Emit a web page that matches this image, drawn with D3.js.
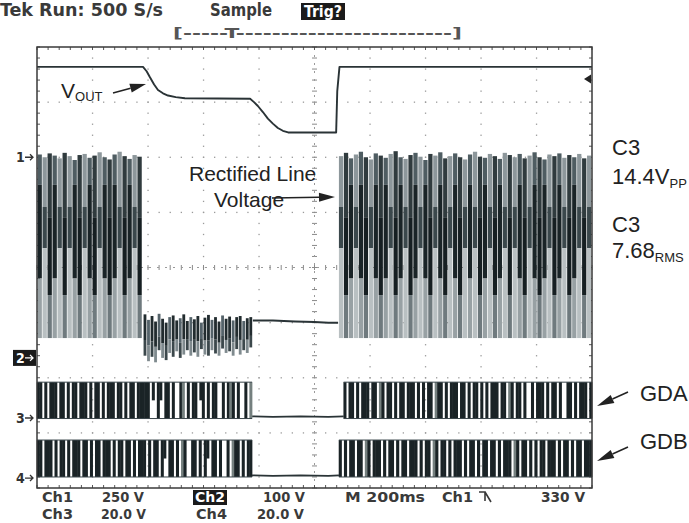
<!DOCTYPE html>
<html><head><meta charset="utf-8">
<script src="https://cdn.jsdelivr.net/npm/d3@7"></script>
<style>body{margin:0;background:#fff}svg{display:block}</style>
</head><body><svg id="c" width="689" height="523"></svg>
<script>
// ================= DATA =================
// time in ms (200 ms/div, 10 div), level in divisions (-4..+4)
const voutTime  = [0, 382, 395, 407, 422, 436, 454, 472, 500, 533, 768, 782, 796, 814, 832, 850, 868, 886, 905, 1078, 1082, 1090, 2000];
const voutLevel = [3.64, 3.64, 3.56, 3.45, 3.32, 3.22, 3.16, 3.12, 3.09, 3.07, 3.06, 3.0, 2.93, 2.82, 2.70, 2.61, 2.53, 2.48, 2.45, 2.45, 3.2, 3.64, 3.64];

// rectified line voltage: peak of each aliased pulse (div); bottom is common
const rectLeftSpan  = [2, 380];
const rectLeftTop   = [2.05, 2.0, 2.07, 2.03, 1.98, 2.08, 2.02, 1.95, 2.04, 2.06, 1.99, 2.03, 2.09, 2.0, 1.96, 2.05, 2.1, 2.02, 1.97, 2.04, 2.01];
const rectLeftShade = [0, 1, 2, 0, 1, 2, 1, 0, 2, 1, 0, 2, 1, 0, 2, 0, 1, 2, 0, 1, 2];
const rectRightSpan  = [1088, 2000];
const rectRightTop   = [2.02, 2.08, 1.98, 2.05, 2.1, 2.0, 1.96, 2.07, 2.03, 1.99, 2.06, 2.11, 2.0, 1.97, 2.04, 2.08, 2.01, 1.95, 2.06, 2.03, 2.09, 1.98, 2.02, 2.07, 2.0, 1.96, 2.05, 2.1, 2.01, 1.99, 2.06, 2.02, 1.97, 2.08, 2.04, 2.0, 2.06, 1.98, 2.03, 2.09, 2.0, 1.96, 2.05, 2.02, 2.07, 1.99, 2.04, 2.0, 2.06, 1.98, 2.03];
const rectRightShade = [1, 2, 0, 1, 0, 2, 1, 0, 2, 0, 1, 2, 0, 1, 2, 0, 1, 0, 2, 1, 0, 2, 1, 0, 2, 1, 0, 1, 2, 0, 1, 2, 0, 1, 2, 1, 0, 2, 1, 0, 2, 0, 1, 2, 0, 1, 2, 0, 1, 2, 1];
const rectBottom = -1.28;

// dropout: noisy band of ch2 then flat trace
const noiseSpan = [384, 778];
const noiseTop  = [-0.85, -0.95, -0.88, -0.98, -0.84, -0.93, -1.0, -0.9, -0.87, -0.96, -0.92, -0.85, -0.97, -0.9, -0.94, -0.88, -1.0, -0.91, -0.86, -0.95, -0.9, -0.98, -0.87, -0.93, -0.89, -0.96, -0.9, -0.88, -0.97, -0.92, -0.9];
const noiseBot  = [-1.6, -1.7, -1.62, -1.72, -1.5, -1.64, -1.68, -1.55, -1.62, -1.52, -1.64, -1.58, -1.5, -1.6, -1.54, -1.62, -1.48, -1.58, -1.6, -1.5, -1.56, -1.6, -1.47, -1.55, -1.52, -1.6, -1.48, -1.58, -1.5, -1.55, -1.45];
const ch2FlatTime  = [778, 850, 930, 1000, 1050, 1085];
const ch2FlatLevel = [-0.96, -0.96, -0.98, -0.99, -1.0, -1.0];

// gate drives: '#' dark pulse, '+' grey pulse, 'u' short pulse, '.' gap
const gdaHigh = -2.08, gdaLow = -2.74;
const gdaLeftSpan = [0, 775];
const gdaLeft  = "##.#.###.##.#.##.###.#.##.#.###.##.#.##.####" + "#.u.#u.##.#..#+.#.##.u#.#.##..#.#+#.#..#.+";
const gdaRightSpan = [1105, 2000];
const gdaRight = "#.##.#.###.##.+#.##.#.##.###.#.#.##.+##.#.###.##.#.##.#.#.###.##.+#.##.#..#.###.#.##.#..##.#.###.#";
const gdaFlatTime  = [775, 850, 950, 1050, 1105];
const gdaFlatLevel = [-2.70, -2.71, -2.70, -2.71, -2.70];

const gdbHigh = -3.13, gdbLow = -3.80;
const gdbLeftSpan = [0, 775];
const gdbLeft  = "##.###.#.##.#.###.##.#.##.###.#.##.##.#.###" + ".#.##.#u.##.#.+#..##.#.#u.##.#..#.+##.#.##";
const gdbRightSpan = [1088, 2000];
const gdbRight = "#.#.##.##.+#.###.#.##.#.##.###.#.##.+#.##.#.###.#.##.#.##.##.#.###.+#.##.#.#.##.###.#.##.#.##.###";
const gdbFlatTime  = [775, 850, 950, 1050, 1088];
const gdbFlatLevel = [-3.77, -3.78, -3.77, -3.78, -3.77];

const chMarkers = [{label: "1", level: 2.0, boxed: false}, {label: "2", level: -1.64, boxed: true},
                   {label: "3", level: -2.73, boxed: false}, {label: "4", level: -3.82, boxed: false}];
const triggerLevel = 3.42;

// ================= DRAW =================
const svg = d3.select("#c");
const x = d3.scaleLinear().domain([0, 2000]).range([37, 592]);
const y = d3.scaleLinear().domain([-4, 4]).range([488, 47]);
const tekFont = "'DejaVu Sans Condensed','DejaVu Sans',sans-serif";
const annFont = "'Liberation Sans',Arial,sans-serif";

// graticule
const grid = svg.append("g");
const minorX = d3.range(0, 2000.01, 40);
const minorY = d3.range(-4, 4.001, 0.2);
for (let i = 1; i < 10; i++) {
  if (i === 5) continue;
  grid.append("g").selectAll("rect").data(minorY.slice(1, -1)).join("rect")
    .attr("x", x(i * 200) - 0.6).attr("y", d => y(d) - 0.6).attr("width", 1.3).attr("height", 1.3).attr("fill", "#9a9a9a");
}
for (let j = -3; j <= 3; j++) {
  if (j === 0) continue;
  grid.append("g").selectAll("rect").data(minorX.slice(1, -1)).join("rect")
    .attr("x", d => x(d) - 0.6).attr("y", y(j) - 0.6).attr("width", 1.3).attr("height", 1.3).attr("fill", "#9a9a9a");
}
grid.append("g").selectAll("line").data(minorY).join("line")
  .attr("x1", x(1000) - 2.5).attr("x2", x(1000) + 2.5).attr("y1", d => y(d)).attr("y2", d => y(d))
  .attr("stroke", "#8a8a8a").attr("stroke-width", 1);
grid.append("g").selectAll("line").data(minorX).join("line")
  .attr("y1", y(0) - 2.5).attr("y2", y(0) + 2.5).attr("x1", d => x(d)).attr("x2", d => x(d))
  .attr("stroke", "#8a8a8a").attr("stroke-width", 1);
grid.append("line").attr("x1", x(1000)).attr("x2", x(1000)).attr("y1", y(4)).attr("y2", y(-4))
  .attr("stroke", "#9a9a9a").attr("stroke-dasharray", "2,6");
grid.append("line").attr("x1", x(0)).attr("x2", x(2000)).attr("y1", y(0)).attr("y2", y(0))
  .attr("stroke", "#9a9a9a").attr("stroke-dasharray", "2,6");
grid.append("g").selectAll("line").data(minorX).join("line")
  .attr("x1", d => x(d)).attr("x2", d => x(d)).attr("y1", y(4)).attr("y2", y(4) + 3).attr("stroke", "#555");
grid.append("g").selectAll("line").data(minorX).join("line")
  .attr("x1", d => x(d)).attr("x2", d => x(d)).attr("y1", y(-4)).attr("y2", y(-4) - 3).attr("stroke", "#555");
grid.append("g").selectAll("line").data(minorY).join("line")
  .attr("y1", d => y(d)).attr("y2", d => y(d)).attr("x1", x(0)).attr("x2", x(0) + 3).attr("stroke", "#555");
grid.append("g").selectAll("line").data(minorY).join("line")
  .attr("y1", d => y(d)).attr("y2", d => y(d)).attr("x1", x(2000)).attr("x2", x(2000) - 3).attr("stroke", "#555");

// traces
const tr = svg.append("g");
function pulses(tops, shades, span, bottom) {
  const dt = (span[1] - span[0]) / tops.length;
  return tops.map((t, i) => ({t: span[0] + i * dt, dt, top: t, shade: shades ? shades[i] : 0, bottom: Array.isArray(bottom) ? bottom[i] : bottom}));
}
const shadeCols = [
  [{a: null, b: 1.5, c: "#4f5d62"}, {a: 1.5, b: -0.2, c: "#1a2427"}, {a: -0.2, b: null, c: "#98a1a4"}],
  [{a: null, b: 1.1, c: "#8d979b"}, {a: 1.1, b: 0.35, c: "#3b484c"}, {a: 0.35, b: null, c: "#b9c0c2"}],
  [{a: null, b: 0.9, c: "#303b3e"}, {a: 0.9, b: -0.5, c: "#161f22"}, {a: -0.5, b: null, c: "#6f7a7e"}]
];
function drawRect(data) {
  data.forEach(d => {
    const x0 = x(d.t), w = Math.max(1, (x(d.t + d.dt) - x(d.t)) * 0.86);
    shadeCols[d.shade].forEach(s => {
      const top = s.a === null ? d.top : s.a, bot = s.b === null ? d.bottom : s.b;
      tr.append("rect").attr("x", x0).attr("width", w).attr("y", y(top)).attr("height", y(bot) - y(top)).attr("fill", s.c);
    });
  });
}
drawRect(pulses(rectLeftTop, rectLeftShade, rectLeftSpan, rectBottom));
drawRect(pulses(rectRightTop, rectRightShade, rectRightSpan, rectBottom));

// ch2 noise band
pulses(noiseTop, null, noiseSpan, noiseBot).forEach((d, i) => {
  const x0 = x(d.t), w = (x(d.t + d.dt) - x(d.t)) * 0.8;
  const mid = d.top + (d.bottom - d.top) * 0.62;
  tr.append("rect").attr("x", x0).attr("width", w).attr("y", y(d.top)).attr("height", y(mid) - y(d.top)).attr("fill", i % 3 === 1 ? "#55636a" : "#222c2f");
  tr.append("rect").attr("x", x0).attr("width", w).attr("y", y(mid)).attr("height", y(d.bottom) - y(mid)).attr("fill", i % 2 ? "#7f8a8e" : "#3c484c");
});

const line = d3.line().x(d => x(d[0])).y(d => y(d[1]));
function flat(ts, vs, sw) {
  tr.append("path").attr("d", line(ts.map((t, i) => [t, vs[i]]))).attr("fill", "none").attr("stroke", "#2a3437").attr("stroke-width", sw);
}
flat(ch2FlatTime, ch2FlatLevel, 2);
flat(gdaFlatTime, gdaFlatLevel, 1.8);
flat(gdbFlatTime, gdbFlatLevel, 1.8);

function digital(str, span, hi, lo) {
  const chars = str.split("");
  const dt = (span[1] - span[0]) / chars.length;
  const cols = {"#": "#1a2326", "+": "#75807f", "u": "#1a2326"};
  chars.forEach((c, i) => {
    if (c === ".") return;
    const t = span[0] + i * dt;
    const bot = c === "u" ? hi + (lo - hi) * 0.5 : lo;
    tr.append("rect").attr("x", x(t) - 0.2).attr("width", (x(t + dt) - x(t)) * 1.2)
      .attr("y", y(hi)).attr("height", y(bot) - y(hi)).attr("fill", cols[c]);
  });
  tr.append("line").attr("x1", x(span[0])).attr("x2", x(span[1])).attr("y1", y(hi)).attr("y2", y(hi)).attr("stroke", "#39454a").attr("stroke-width", 1);
  tr.append("line").attr("x1", x(span[0])).attr("x2", x(span[1])).attr("y1", y(lo)).attr("y2", y(lo)).attr("stroke", "#39454a").attr("stroke-width", 1);
}
digital(gdaLeft, gdaLeftSpan, gdaHigh, gdaLow);
digital(gdaRight, gdaRightSpan, gdaHigh, gdaLow);
digital(gdbLeft, gdbLeftSpan, gdbHigh, gdbLow);
digital(gdbRight, gdbRightSpan, gdbHigh, gdbLow);

// Vout
tr.append("path").attr("d", line(voutTime.map((t, i) => [t, voutLevel[i]])))
  .attr("fill", "none").attr("stroke", "#2a3336").attr("stroke-width", 1.9).attr("stroke-linejoin", "round");

// frame
svg.append("rect").attr("x", x(0)).attr("y", y(4)).attr("width", x(2000) - x(0)).attr("height", y(-4) - y(4))
  .attr("fill", "none").attr("stroke", "#3a3a3a").attr("stroke-width", 1.5);

// trigger level marker
svg.append("path").attr("d", `M${x(2000) - 8},${y(triggerLevel)} l7,-4.5 v9 z`).attr("fill", "#222");

// channel markers
chMarkers.forEach(m => {
  const yy = y(m.level);
  if (m.boxed) svg.append("rect").attr("x", 13).attr("y", yy - 8).attr("width", 23).attr("height", 16).attr("fill", "#1b1b1b");
  svg.append("text").attr("x", 16).attr("y", yy + 5).text(m.label)
    .attr("font-family", tekFont).attr("font-weight", "bold").attr("font-size", 14).attr("fill", m.boxed ? "#fff" : "#333");
  svg.append("path").attr("d", `M25,${yy} h8 m-3,-3 l3,3 l-3,3`).attr("fill", "none")
    .attr("stroke", m.boxed ? "#fff" : "#333").attr("stroke-width", 1.3);
});

// header / footer
function tekText(s, x0, y0, len, opt = {}) {
  const t = svg.append("text").attr("x", x0).attr("y", y0).text(s).attr("font-family", tekFont)
    .attr("font-weight", "bold").attr("font-size", opt.size || 14).attr("fill", opt.fill || "#3a3a3a");
  if (len) t.attr("textLength", len).attr("lengthAdjust", "spacingAndGlyphs");
  return t;
}
tekText("Tek Run: 500 S/s", 0, 16, 163, {size: 17});
tekText("Sample", 210, 16, 62, {size: 17});
svg.append("rect").attr("x", 301).attr("y", 3).attr("width", 44).attr("height", 17).attr("fill", "#1b1b1b");
tekText("Trig?", 304, 17, 38, {size: 15, fill: "#fff"});
tekText("[-----T------------------------]", 173, 38, 289, {size: 14, fill: "#555"});

tekText("Ch1", 42, 502, 31); tekText("250 V", 102, 502, 42);
svg.append("rect").attr("x", 193).attr("y", 490).attr("width", 34).attr("height", 15).attr("fill", "#1b1b1b");
tekText("Ch2", 195, 502, 30, {fill: "#fff"});
tekText("100 V", 263, 502, 42);
tekText("M 200ms", 345, 502, 80);
tekText("Ch1", 442, 502, 31);
svg.append("path").attr("d", "M479,492 h6 v9 M485,492 l6,10").attr("fill", "none").attr("stroke", "#3a3a3a").attr("stroke-width", 1.6);
tekText("330 V", 541, 502, 44);
tekText("Ch3", 42, 519, 31); tekText("20.0 V", 101, 519, 45);
tekText("Ch4", 196, 519, 31); tekText("20.0 V", 257, 519, 47);

// annotations
function arrow(x1, y1, x2, y2, head) {
  const ang = Math.atan2(y2 - y1, x2 - x1);
  const hl = head || 14, hw = 4.5;
  const bx = x2 - hl * Math.cos(ang), by = y2 - hl * Math.sin(ang);
  svg.append("line").attr("x1", x1).attr("y1", y1).attr("x2", bx).attr("y2", by).attr("stroke", "#222").attr("stroke-width", 1.5);
  svg.append("path").attr("d", `M${x2},${y2} L${bx - hw * Math.sin(ang)},${by + hw * Math.cos(ang)} L${bx + hw * Math.sin(ang)},${by - hw * Math.cos(ang)} Z`).attr("fill", "#222");
}
const ann = (s, x0, y0, size) => svg.append("text").attr("x", x0).attr("y", y0).attr("font-family", annFont)
  .attr("font-size", size || 21).attr("fill", "#222").text(s);

const vt = ann("V", 61, 98, 21);
vt.append("tspan").attr("dy", 3).attr("font-size", 13).text("OUT");
arrow(113, 93, 146, 84, 16);

ann("Rectified Line", 189, 181, 21);
ann("Voltage", 214, 207, 21);
arrow(272, 198, 335, 197, 16);

ann("C3", 612, 155, 22);
ann("14.4V", 612, 184, 22).append("tspan").attr("dy", 4).attr("font-size", 13).text("PP");
ann("C3", 612, 232, 22);
ann("7.68", 612, 258, 22).append("tspan").attr("dy", 4).attr("font-size", 13).text("RMS");

ann("GDA", 640, 401, 22);
arrow(628, 392, 597, 406, 17);
ann("GDB", 640, 449, 22);
arrow(628, 447, 597, 461, 17);
</script></body></html>
